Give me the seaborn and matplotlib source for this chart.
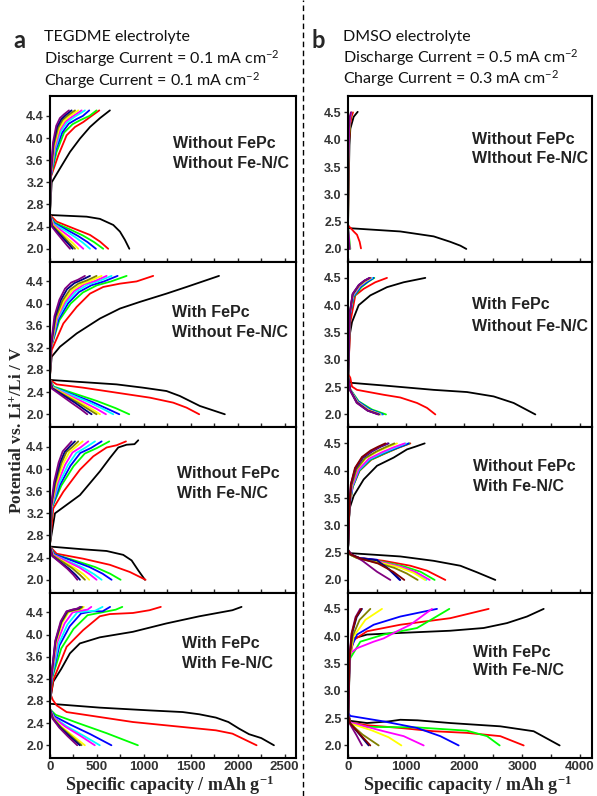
import matplotlib
matplotlib.use("Agg")
import matplotlib.pyplot as plt
from matplotlib.lines import Line2D
from matplotlib.ticker import MultipleLocator, FormatStrFormatter
import pandas as pd
import seaborn as sns

# ---------------------------------------------------------------------------
# Galvanostatic discharge / charge profiles, one entry per cycle:
# (cycle number, specific capacity in mAh/g, potential in V vs Li+/Li)
# ---------------------------------------------------------------------------

# TEGDME, without FePc, without Fe-N/C
tegdme_plain_dis = [
    (1, [0, 390, 532, 674, 745, 798, 845], [2.61, 2.58, 2.54, 2.43, 2.31, 2.16, 2.00]),
    (2, [0, 71, 248, 426, 532, 620], [2.61, 2.49, 2.37, 2.25, 2.13, 2.00]),
    (3, [0, 50, 200, 350, 470, 567], [2.60, 2.47, 2.36, 2.24, 2.12, 2.00]),
    (4, [0, 45, 170, 300, 400, 489], [2.60, 2.46, 2.35, 2.23, 2.12, 2.00]),
    (5, [0, 40, 150, 260, 350, 426], [2.60, 2.45, 2.34, 2.22, 2.11, 2.00]),
    (6, [0, 35, 120, 215, 290, 355], [2.60, 2.44, 2.33, 2.21, 2.10, 2.00]),
    (7, [0, 30, 100, 180, 245, 301], [2.60, 2.43, 2.32, 2.20, 2.10, 2.00]),
    (8, [0, 25, 90, 160, 215, 266], [2.60, 2.42, 2.31, 2.19, 2.09, 2.00]),
    (9, [0, 22, 80, 145, 195, 241], [2.60, 2.41, 2.30, 2.18, 2.09, 2.00]),
    (10, [0, 20, 70, 128, 172, 213], [2.60, 2.40, 2.29, 2.17, 2.08, 2.00]),
]
tegdme_plain_chg = [
    (1, [0, 18, 106, 213, 319, 426, 532, 638], [2.65, 3.20, 3.45, 3.75, 3.99, 4.20, 4.36, 4.50]),
    (2, [0, 10, 89, 177, 266, 355, 443, 525], [2.65, 3.30, 3.69, 4.05, 4.20, 4.29, 4.40, 4.50]),
    (3, [0, 8, 70, 150, 240, 330, 420, 496], [2.65, 3.30, 3.75, 4.10, 4.25, 4.33, 4.40, 4.50]),
    (4, [0, 8, 60, 130, 200, 280, 350, 418], [2.65, 3.30, 3.78, 4.10, 4.26, 4.34, 4.40, 4.50]),
    (5, [0, 7, 55, 115, 180, 250, 372], [2.65, 3.30, 3.80, 4.12, 4.28, 4.37, 4.50]),
    (6, [0, 7, 50, 105, 165, 230, 337], [2.65, 3.30, 3.82, 4.14, 4.30, 4.38, 4.50]),
    (7, [0, 6, 45, 95, 150, 210, 301], [2.65, 3.30, 3.85, 4.16, 4.31, 4.40, 4.50]),
    (8, [0, 6, 40, 85, 135, 190, 266], [2.65, 3.30, 3.87, 4.18, 4.33, 4.41, 4.50]),
    (9, [0, 5, 36, 75, 120, 170, 230], [2.65, 3.30, 3.90, 4.20, 4.34, 4.42, 4.50]),
    (10, [0, 5, 32, 66, 105, 150, 202], [2.65, 3.30, 3.92, 4.22, 4.36, 4.43, 4.50]),
]

# TEGDME, with FePc, without Fe-N/C
tegdme_fepc_dis = [
    (1, [0, 355, 709, 993, 1241, 1383, 1596, 1862], [2.62, 2.58, 2.54, 2.48, 2.42, 2.33, 2.15, 2.00]),
    (2, [0, 71, 355, 709, 1064, 1312, 1454, 1589], [2.62, 2.54, 2.48, 2.39, 2.30, 2.21, 2.12, 2.00]),
    (3, [0, 40, 250, 500, 700, 844], [2.62, 2.50, 2.38, 2.24, 2.11, 2.00]),
    (4, [0, 35, 220, 440, 610, 738], [2.62, 2.49, 2.37, 2.23, 2.10, 2.00]),
    (5, [0, 32, 200, 400, 560, 674], [2.62, 2.49, 2.37, 2.23, 2.10, 2.00]),
    (6, [0, 30, 180, 355, 495, 596], [2.62, 2.48, 2.36, 2.22, 2.10, 2.00]),
    (7, [0, 28, 160, 315, 440, 532], [2.62, 2.48, 2.36, 2.22, 2.10, 2.00]),
    (8, [0, 26, 150, 295, 410, 496], [2.62, 2.47, 2.35, 2.21, 2.09, 2.00]),
    (9, [0, 24, 135, 265, 365, 443], [2.62, 2.47, 2.35, 2.21, 2.09, 2.00]),
    (10, [0, 22, 120, 235, 328, 397], [2.62, 2.46, 2.34, 2.20, 2.09, 2.00]),
]
tegdme_fepc_chg = [
    (1, [0, 18, 106, 284, 532, 745, 957, 1241, 1454, 1800], [2.70, 3.04, 3.22, 3.46, 3.73, 3.91, 4.03, 4.18, 4.30, 4.50]),
    (2, [0, 18, 142, 284, 426, 567, 745, 922, 1099], [2.70, 3.16, 3.64, 3.94, 4.18, 4.30, 4.36, 4.40, 4.50]),
    (3, [0, 10, 100, 220, 350, 500, 650, 816], [2.70, 3.20, 3.70, 4.00, 4.20, 4.33, 4.40, 4.50]),
    (4, [0, 10, 90, 195, 310, 440, 575, 720], [2.70, 3.20, 3.71, 4.01, 4.21, 4.33, 4.40, 4.50]),
    (5, [0, 9, 80, 175, 280, 400, 525, 656], [2.70, 3.20, 3.72, 4.02, 4.22, 4.34, 4.41, 4.50]),
    (6, [0, 9, 75, 160, 258, 368, 482, 603], [2.70, 3.20, 3.73, 4.03, 4.23, 4.35, 4.41, 4.50]),
    (7, [0, 8, 68, 148, 235, 335, 440, 550], [2.70, 3.20, 3.74, 4.04, 4.24, 4.35, 4.42, 4.50]),
    (8, [0, 8, 62, 132, 212, 302, 396, 496], [2.70, 3.20, 3.75, 4.05, 4.25, 4.36, 4.42, 4.50]),
    (9, [0, 7, 54, 114, 182, 260, 340, 426], [2.70, 3.20, 3.76, 4.06, 4.26, 4.37, 4.43, 4.50]),
    (10, [0, 7, 47, 100, 160, 226, 297, 372], [2.70, 3.20, 3.77, 4.07, 4.27, 4.38, 4.43, 4.50]),
]

# TEGDME, without FePc, with Fe-N/C
tegdme_fenc_dis = [
    (1, [0, 355, 603, 780, 869, 940, 1011], [2.60, 2.55, 2.52, 2.45, 2.35, 2.17, 2.00]),
    (2, [0, 71, 355, 638, 851, 1018], [2.60, 2.47, 2.38, 2.27, 2.14, 2.00]),
    (3, [0, 50, 260, 480, 640, 752], [2.60, 2.46, 2.35, 2.23, 2.11, 2.00]),
    (4, [0, 45, 230, 420, 560, 656], [2.60, 2.46, 2.35, 2.23, 2.11, 2.00]),
    (5, [0, 40, 190, 350, 470, 550], [2.60, 2.45, 2.34, 2.22, 2.10, 2.00]),
    (6, [0, 36, 170, 315, 423, 496], [2.60, 2.45, 2.34, 2.22, 2.10, 2.00]),
    (7, [0, 32, 145, 265, 357, 418], [2.60, 2.44, 2.33, 2.21, 2.10, 2.00]),
    (8, [0, 28, 128, 236, 318, 372], [2.60, 2.44, 2.33, 2.21, 2.09, 2.00]),
    (9, [0, 25, 110, 202, 272, 319], [2.60, 2.43, 2.32, 2.20, 2.09, 2.00]),
    (10, [0, 23, 100, 184, 248, 291], [2.60, 2.43, 2.32, 2.20, 2.09, 2.00]),
]
tegdme_fenc_chg = [
    (1, [0, 53, 319, 532, 638, 727, 816, 900, 940], [2.65, 3.20, 3.53, 3.96, 4.20, 4.39, 4.44, 4.45, 4.52]),
    (2, [0, 35, 142, 319, 461, 603, 709, 809], [2.65, 3.29, 3.59, 3.99, 4.23, 4.39, 4.43, 4.50]),
    (3, [0, 20, 120, 250, 370, 500, 631], [2.65, 3.30, 3.70, 4.05, 4.28, 4.38, 4.50]),
    (4, [0, 18, 105, 218, 322, 436, 550], [2.65, 3.30, 3.71, 4.06, 4.29, 4.38, 4.50]),
    (5, [0, 16, 92, 190, 280, 380, 479], [2.65, 3.30, 3.72, 4.07, 4.29, 4.39, 4.50]),
    (6, [0, 14, 78, 162, 240, 324, 408], [2.65, 3.30, 3.73, 4.08, 4.30, 4.39, 4.50]),
    (7, [0, 12, 67, 138, 204, 276, 348], [2.65, 3.30, 3.74, 4.09, 4.30, 4.40, 4.50]),
    (8, [0, 10, 58, 120, 176, 239, 301], [2.65, 3.30, 3.75, 4.10, 4.31, 4.40, 4.50]),
    (9, [0, 9, 51, 106, 156, 211, 266], [2.65, 3.30, 3.76, 4.11, 4.31, 4.41, 4.50]),
    (10, [0, 8, 44, 92, 135, 182, 230], [2.65, 3.30, 3.77, 4.12, 4.32, 4.41, 4.50]),
]

# TEGDME, with FePc, with Fe-N/C
tegdme_both_dis = [
    (1, [0, 530, 1060, 1413, 1590, 1767, 1900, 2014, 2120, 2250, 2385],
        [2.75, 2.68, 2.63, 2.60, 2.56, 2.50, 2.42, 2.30, 2.20, 2.13, 2.00]),
    (2, [0, 30, 71, 177, 530, 883, 1413, 1767, 1943, 2200],
        [2.95, 2.82, 2.72, 2.60, 2.51, 2.42, 2.33, 2.27, 2.21, 2.00]),
    (3, [0, 60, 300, 600, 936], [2.65, 2.55, 2.40, 2.22, 2.00]),
    (4, [0, 50, 220, 430, 654], [2.65, 2.52, 2.37, 2.20, 2.00]),
    (5, [0, 45, 180, 350, 530], [2.65, 2.50, 2.34, 2.18, 2.00]),
    (6, [0, 40, 160, 315, 477], [2.65, 2.50, 2.34, 2.18, 2.00]),
    (7, [0, 35, 125, 245, 371], [2.65, 2.49, 2.33, 2.17, 2.00]),
    (8, [0, 32, 115, 222, 336], [2.65, 2.49, 2.33, 2.17, 2.00]),
    (9, [0, 30, 108, 210, 318], [2.65, 2.48, 2.32, 2.16, 2.00]),
    (10, [0, 28, 98, 190, 290], [2.65, 2.48, 2.32, 2.16, 2.00]),
]
tegdme_both_chg = [
    (1, [0, 35, 120, 212, 318, 530, 883, 1237, 1590, 1943, 2040],
        [2.80, 3.15, 3.38, 3.66, 3.84, 3.95, 4.05, 4.20, 4.33, 4.44, 4.50]),
    (2, [0, 35, 177, 353, 530, 636, 883, 1060, 1180], [2.80, 3.18, 3.78, 4.08, 4.33, 4.37, 4.39, 4.44, 4.50]),
    (3, [0, 20, 120, 250, 400, 550, 700, 770], [2.80, 3.20, 3.75, 4.10, 4.35, 4.40, 4.45, 4.50]),
    (4, [0, 18, 100, 210, 330, 450, 560, 640], [2.80, 3.20, 3.80, 4.15, 4.38, 4.42, 4.42, 4.50]),
    (5, [0, 16, 90, 185, 290, 400, 480, 560], [2.80, 3.20, 3.82, 4.18, 4.40, 4.42, 4.43, 4.50]),
    (6, [0, 14, 75, 155, 240, 320, 400, 440], [2.80, 3.20, 3.85, 4.20, 4.40, 4.43, 4.45, 4.50]),
    (7, [0, 12, 65, 130, 200, 270, 330, 360], [2.80, 3.20, 3.86, 4.21, 4.41, 4.44, 4.46, 4.50]),
    (8, [0, 12, 60, 122, 190, 255, 315, 345], [2.80, 3.20, 3.87, 4.22, 4.41, 4.44, 4.46, 4.50]),
    (9, [0, 11, 58, 118, 182, 245, 300, 330], [2.80, 3.20, 3.88, 4.23, 4.42, 4.45, 4.47, 4.50]),
    (10, [0, 11, 56, 114, 175, 236, 290, 320], [2.80, 3.20, 3.89, 4.24, 4.42, 4.45, 4.47, 4.50]),
]

# DMSO, without FePc, without Fe-N/C
dmso_plain_dis = [
    (1, [0, 23, 902, 1477, 1764, 1937, 2040], [2.45, 2.38, 2.32, 2.23, 2.13, 2.06, 2.00]),
    (2, [0, 40, 98, 155, 201, 224], [2.42, 2.39, 2.32, 2.26, 2.13, 2.01]),
    (3, [0, 20, 40], [2.40, 2.20, 2.00]),
    (6, [0, 15, 30], [2.40, 2.20, 2.00]),
    (10, [0, 12, 25], [2.40, 2.20, 2.00]),
]
dmso_plain_chg = [
    (1, [0, 10, 25, 40, 98, 167], [2.40, 3.10, 3.90, 4.20, 4.42, 4.51]),
    (2, [0, 10, 20, 40, 60, 86], [2.35, 3.50, 4.00, 4.30, 4.42, 4.50]),
    (3, [0, 8, 20, 40, 60], [2.30, 3.50, 4.10, 4.40, 4.50]),
    (6, [0, 6, 18, 35, 57], [2.30, 3.60, 4.15, 4.40, 4.50]),
    (10, [0, 5, 15, 30, 50], [2.30, 3.70, 4.20, 4.42, 4.50]),
]

# DMSO, with FePc, without Fe-N/C
dmso_fepc_dis = [
    (1, [0, 40, 615, 1477, 2052, 2511, 2856, 3230], [2.70, 2.58, 2.53, 2.45, 2.41, 2.33, 2.21, 2.00]),
    (2, [0, 40, 69, 155, 615, 902, 1190, 1362, 1506], [2.75, 2.67, 2.51, 2.45, 2.36, 2.31, 2.21, 2.12, 2.00]),
    (3, [0, 40, 184, 414, 655], [2.70, 2.46, 2.24, 2.09, 2.00]),
    (4, [0, 40, 170, 380, 600], [2.70, 2.45, 2.24, 2.09, 2.00]),
    (5, [0, 40, 165, 370, 580], [2.70, 2.45, 2.23, 2.08, 2.00]),
    (6, [0, 40, 160, 355, 560], [2.70, 2.45, 2.23, 2.08, 2.00]),
    (7, [0, 40, 160, 350, 550], [2.70, 2.44, 2.22, 2.08, 2.00]),
    (8, [0, 40, 155, 345, 540], [2.70, 2.44, 2.22, 2.07, 2.00]),
    (9, [0, 40, 150, 340, 530], [2.70, 2.44, 2.22, 2.07, 2.00]),
    (10, [0, 40, 150, 335, 520], [2.70, 2.43, 2.21, 2.07, 2.00]),
]
dmso_fepc_chg = [
    (1, [0, 29, 69, 184, 385, 672, 960, 1333], [2.60, 3.45, 3.69, 4.00, 4.18, 4.33, 4.42, 4.50]),
    (2, [0, 40, 126, 270, 471, 672], [2.60, 3.69, 4.18, 4.30, 4.42, 4.50]),
    (3, [0, 30, 100, 230, 350, 454], [2.60, 3.80, 4.15, 4.33, 4.43, 4.50]),
    (4, [0, 30, 95, 220, 335, 440], [2.60, 3.80, 4.16, 4.34, 4.43, 4.50]),
    (5, [0, 30, 90, 210, 320, 420], [2.60, 3.82, 4.17, 4.35, 4.44, 4.50]),
    (6, [0, 30, 86, 200, 305, 400], [2.60, 3.82, 4.18, 4.35, 4.44, 4.50]),
    (7, [0, 30, 84, 195, 298, 390], [2.60, 3.84, 4.19, 4.36, 4.44, 4.50]),
    (8, [0, 30, 82, 190, 290, 380], [2.60, 3.84, 4.20, 4.36, 4.45, 4.50]),
    (9, [0, 30, 80, 187, 285, 374], [2.60, 3.85, 4.20, 4.37, 4.45, 4.50]),
    (10, [0, 30, 80, 185, 282, 370], [2.60, 3.85, 4.21, 4.37, 4.45, 4.50]),
]

# DMSO, without FePc, with Fe-N/C
dmso_fenc_dis = [
    (1, [0, 40, 328, 902, 1477, 1937, 2224, 2540], [2.55, 2.49, 2.47, 2.43, 2.35, 2.26, 2.14, 2.00]),
    (2, [0, 40, 155, 615, 1075, 1362, 1678], [2.55, 2.47, 2.41, 2.35, 2.26, 2.17, 2.00]),
    (3, [0, 40, 155, 560, 960, 1250, 1494], [2.55, 2.46, 2.41, 2.34, 2.25, 2.15, 2.00]),
    (4, [0, 40, 200, 500, 700, 891], [2.55, 2.47, 2.40, 2.37, 2.20, 2.00]),
    (5, [0, 40, 155, 500, 900, 1150, 1350], [2.55, 2.46, 2.41, 2.34, 2.24, 2.14, 2.00]),
    (6, [0, 40, 155, 520, 920, 1180, 1408], [2.55, 2.46, 2.41, 2.34, 2.24, 2.14, 2.00]),
    (7, [0, 40, 155, 500, 880, 1130, 1330], [2.55, 2.46, 2.40, 2.33, 2.23, 2.13, 2.00]),
    (8, [0, 40, 155, 450, 800, 1010, 1201], [2.55, 2.46, 2.40, 2.33, 2.22, 2.12, 2.00]),
    (9, [0, 40, 200, 500, 700, 902], [2.55, 2.47, 2.40, 2.36, 2.20, 2.00]),
    (10, [0, 60, 250, 500, 730], [2.55, 2.47, 2.35, 2.15, 2.00]),
    (11, [0, 40, 220, 520, 780, 971], [2.55, 2.47, 2.39, 2.30, 2.15, 2.00]),
]
dmso_fenc_chg = [
    (1, [0, 25, 98, 270, 500, 787, 1017, 1161, 1322], [2.55, 3.30, 3.54, 3.84, 4.09, 4.24, 4.39, 4.44, 4.50]),
    (2, [0, 25, 80, 200, 400, 650, 870, 1075], [2.55, 3.35, 3.70, 4.00, 4.20, 4.32, 4.42, 4.50]),
    (3, [0, 25, 80, 195, 390, 640, 860, 1060], [2.55, 3.35, 3.70, 4.00, 4.20, 4.32, 4.42, 4.50]),
    (4, [0, 25, 78, 192, 385, 632, 850, 1046], [2.55, 3.35, 3.71, 4.01, 4.21, 4.33, 4.42, 4.50]),
    (5, [0, 25, 75, 185, 370, 605, 810, 1000], [2.55, 3.35, 3.71, 4.01, 4.21, 4.33, 4.42, 4.50]),
    (6, [0, 25, 72, 180, 360, 590, 790, 980], [2.55, 3.35, 3.72, 4.02, 4.22, 4.34, 4.43, 4.50]),
    (7, [0, 25, 62, 155, 310, 510, 680, 845], [2.55, 3.35, 3.73, 4.03, 4.23, 4.35, 4.43, 4.50]),
    (8, [0, 25, 60, 148, 295, 485, 645, 800], [2.55, 3.35, 3.73, 4.03, 4.23, 4.35, 4.43, 4.50]),
    (9, [0, 25, 52, 130, 260, 425, 565, 700], [2.55, 3.35, 3.74, 4.04, 4.24, 4.36, 4.44, 4.50]),
    (10, [0, 25, 50, 126, 252, 413, 550, 684], [2.55, 3.35, 3.75, 4.05, 4.25, 4.36, 4.44, 4.50]),
    (11, [0, 25, 48, 120, 240, 390, 520, 644], [2.55, 3.35, 3.75, 4.05, 4.25, 4.37, 4.44, 4.50]),
]

# DMSO, with FePc, with Fe-N/C
dmso_both_dis = [
    (1, [0, 40, 328, 700, 902, 1200, 1764, 2626, 3201, 3649], [2.60, 2.45, 2.41, 2.44, 2.47, 2.46, 2.41, 2.35, 2.26, 2.00]),
    (2, [0, 40, 328, 902, 1477, 2052, 2626, 3029], [2.55, 2.42, 2.37, 2.32, 2.26, 2.23, 2.17, 2.00]),
    (3, [0, 40, 328, 1190, 2052, 2397, 2615], [2.55, 2.42, 2.34, 2.33, 2.27, 2.17, 2.00]),
    (4, [0, 40, 615, 1190, 1592, 1908], [2.60, 2.54, 2.44, 2.32, 2.17, 2.00]),
    (6, [0, 40, 615, 960, 1305], [2.55, 2.42, 2.26, 2.17, 2.00]),
    (7, [0, 40, 400, 700, 920], [2.55, 2.40, 2.28, 2.15, 2.00]),
    (8, [0, 40, 250, 529], [2.55, 2.40, 2.20, 2.00]),
    (9, [0, 40, 200, 356], [2.55, 2.40, 2.20, 2.00]),
    (10, [0, 40, 150, 241], [2.55, 2.38, 2.18, 2.00]),
    (11, [0, 40, 210, 385], [2.55, 2.40, 2.20, 2.00]),
]
dmso_both_chg = [
    (1, [0, 25, 40, 98, 328, 902, 1764, 2339, 2741, 3086, 3374], [2.40, 3.30, 3.72, 3.96, 4.03, 4.06, 4.10, 4.15, 4.24, 4.36, 4.50]),
    (2, [0, 25, 40, 98, 328, 902, 1764, 2425], [2.40, 3.40, 3.66, 3.93, 4.09, 4.21, 4.33, 4.50]),
    (3, [0, 25, 40, 213, 615, 1190, 1747], [2.40, 3.40, 3.60, 3.90, 4.03, 4.15, 4.50]),
    (4, [0, 25, 40, 155, 443, 902, 1534], [2.40, 3.50, 3.75, 4.03, 4.21, 4.36, 4.50]),
    (6, [0, 25, 40, 155, 443, 615, 845, 1075, 1448], [2.40, 3.42, 3.69, 3.78, 3.90, 3.96, 4.09, 4.21, 4.50]),
    (7, [0, 25, 100, 300, 586], [2.40, 3.60, 4.00, 4.30, 4.50]),
    (8, [0, 25, 80, 200, 385], [2.40, 3.60, 4.00, 4.30, 4.50]),
    (9, [0, 25, 70, 150, 241], [2.40, 3.60, 4.05, 4.35, 4.50]),
    (10, [0, 25, 60, 130, 210], [2.40, 3.60, 4.05, 4.35, 4.50]),
    (11, [0, 25, 65, 140, 230], [2.40, 3.60, 4.05, 4.35, 4.50]),
]

cycle_colors = {1: "#000000", 2: "#FF0000", 3: "#00FF00", 4: "#0000FF", 5: "#00FFFF",
                6: "#FF00FF", 7: "#FFFF00", 8: "#808000", 9: "#000080", 10: "#800080",
                11: "#800000"}

left_labels = [("Without FePc", "Without Fe-N/C"), ("With FePc", "Without Fe-N/C"),
               ("Without FePc", "With Fe-N/C"), ("With FePc", "With Fe-N/C")]
right_labels = [("Without FePc", "WIthout Fe-N/C"), ("With FePc", "Without Fe-N/C"),
                ("Without FePc", "With Fe-N/C"), ("With FePc", "With Fe-N/C")]

left_panels = [(tegdme_plain_dis, tegdme_plain_chg), (tegdme_fepc_dis, tegdme_fepc_chg),
               (tegdme_fenc_dis, tegdme_fenc_chg), (tegdme_both_dis, tegdme_both_chg)]
right_panels = [(dmso_plain_dis, dmso_plain_chg), (dmso_fepc_dis, dmso_fepc_chg),
                (dmso_fenc_dis, dmso_fenc_chg), (dmso_both_dis, dmso_both_chg)]

# label anchor positions (axes fraction): x, first line y, second line y
left_label_pos = [(0.50, 0.71, 0.59), (0.496, 0.69, 0.57), (0.516, 0.72, 0.60), (0.537, 0.69, 0.57)]
right_label_pos = [(0.51, 0.74, 0.62), (0.51, 0.74, 0.61), (0.512, 0.76, 0.64), (0.512, 0.64, 0.53)]


def profiles_frame(discharge, charge):
    rows = []
    for branch, curves in (("dis", discharge), ("chg", charge)):
        for cyc, caps, volts in curves:
            for c, v in zip(caps, volts):
                rows.append({"capacity": c, "potential": v, "cycle": cyc,
                             "curve": f"{branch}{cyc}"})
    return pd.DataFrame(rows)


sns.set_theme(style="ticks")
plt.rcParams["font.family"] = ["Liberation Sans", "DejaVu Sans"]
plt.rcParams["font.weight"] = "bold"
plt.rcParams["mathtext.default"] = "regular"

W, H = 597, 796
fig = plt.figure(figsize=(W / 100, H / 100), dpi=100)

row_edges = [96, 261.5, 427, 592.5, 758]
columns = [
    dict(left=50, width=246, xlim=(0, 2620), ylim=(1.77, 4.76), xmaj=500, xmin=250, ymaj=0.4,
         panels=left_panels, labels=left_labels, pos=left_label_pos),
    dict(left=348, width=244, xlim=(0, 4207), ylim=(1.77, 4.80), xmaj=1000, xmin=500, ymaj=0.5,
         panels=right_panels, labels=right_labels, pos=right_label_pos),
]

for col in columns:
    for i, (dis, chg) in enumerate(col["panels"]):
        top, bot = row_edges[i], row_edges[i + 1]
        ax = fig.add_axes([col["left"] / W, 1 - bot / H, col["width"] / W, (bot - top) / H])
        df = profiles_frame(dis, chg)
        cycles = sorted(df["cycle"].unique())
        sns.lineplot(data=df, x="capacity", y="potential", hue="cycle", hue_order=cycles,
                     units="curve", estimator=None, sort=False, palette=cycle_colors,
                     legend=False, linewidth=1.3, ax=ax)
        ax.set_xlim(*col["xlim"])
        ax.set_ylim(*col["ylim"])
        ax.set_xlabel("")
        ax.set_ylabel("")
        ax.xaxis.set_major_locator(MultipleLocator(col["xmaj"]))
        ax.xaxis.set_minor_locator(MultipleLocator(col["xmin"]))
        ax.yaxis.set_major_locator(MultipleLocator(col["ymaj"]))
        ax.yaxis.set_major_formatter(FormatStrFormatter("%.1f"))
        for s in ax.spines.values():
            s.set_linewidth(1.5)
            s.set_color("black")
            s.set_visible(True)
        ax.tick_params(axis="y", direction="out", length=3, width=1, labelsize=9,
                       pad=1.5, labelcolor="#333333", left=True, right=False)
        ax.tick_params(axis="x", which="both", direction="in", length=3, width=1,
                       bottom=True, top=False, labelsize=9.5, pad=2.5, labelcolor="#333333",
                       labelbottom=(i == 3))
        tx, ty1, ty2 = col["pos"][i]
        l1, l2 = col["labels"][i]
        for txt, ty in ((l1, ty1), (l2, ty2)):
            ax.text(tx, ty, txt, transform=ax.transAxes, ha="left", va="center",
                    fontsize=11.5, fontweight="bold", color="#222222")

# axis titles
serif = ["Liberation Serif", "DejaVu Serif"]
fig.text(18 / W, 1 - 430 / H, r"Potential vs. Li$\mathregular{^{+}}$/Li / V", rotation=90,
         ha="center", va="center", family=serif, fontweight="bold", fontsize=12.5)
for cx in (170, 468):
    fig.text(cx / W, 1 - 791 / H, r"Specific capacity / mAh g$\mathregular{^{-1}}$",
             ha="center", va="baseline", family=serif, fontweight="bold", fontsize=13)

# panel headers
head = ["Lato", "DejaVu Sans"]
fig.text(19 / W, 1 - 41 / H, "a", ha="center", va="center", family=head, fontweight="bold", fontsize=17)
fig.text(318 / W, 1 - 41 / H, "b", ha="center", va="center", family=head, fontweight="bold", fontsize=17)
left_head = ["TEGDME electrolyte",
             r"Discharge Current = 0.1 mA cm$\mathregular{^{-2}}$",
             r"Charge Current = 0.1 mA cm$\mathregular{^{-2}}$"]
right_head = ["DMSO electrolyte",
              r"Discharge Current = 0.5 mA cm$\mathregular{^{-2}}$",
              r"Charge Current = 0.3 mA cm$\mathregular{^{-2}}$"]
for x0, lines, ys in ((44, left_head, (37, 59, 81)), (343, right_head, (37, 58, 79))):
    for txt, y in zip(lines, ys):
        fig.text(x0 / W, 1 - y / H, txt, ha="left", va="center", family=head,
                 fontweight="normal", fontsize=11.5, color="#111111")

# dashed divider between the two electrolytes
fig.add_artist(Line2D([303 / W, 303 / W], [0, 1], transform=fig.transFigure,
                      color="black", linewidth=1, linestyle=(0, (4, 2.5))))

fig.savefig("out.png", dpi=100)
